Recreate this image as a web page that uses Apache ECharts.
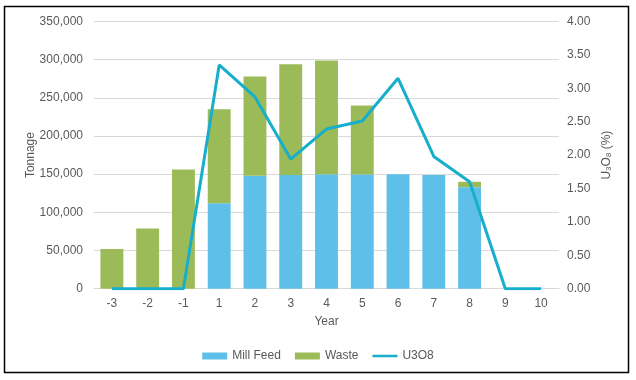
<!DOCTYPE html>
<html>
<head>
<meta charset="utf-8">
<script src="https://cdn.jsdelivr.net/npm/echarts@6/dist/echarts.min.js"></script>
<style>
html,body{margin:0;padding:0;background:#fff;}
#chart{width:636px;height:380px;}
</style>
</head>
<body>
<div id="chart"></div>
<script>
const years = ['-3','-2','-1','1','2','3','4','5','6','7','8','9','10'];
const millFeed = [0, 0, 0, 112000, 148000, 149000, 150000, 149500, 150000, 149000, 133000, 0, 0];
const waste = [52000, 79000, 156000, 123000, 130000, 145000, 149000, 90500, 0, 0, 7000, 0, 0];
const u3o8 = [0, 0, 0, 3.35, 2.87, 1.94, 2.39, 2.51, 3.15, 1.98, 1.60, 0, 0];

const txt = '#595959';
const font = 'Liberation Sans, Arial, sans-serif';
const chart = echarts.init(document.getElementById('chart'));
chart.setOption({
  animation: false,
  backgroundColor: '#fff',
  textStyle: {fontFamily: font},
  graphic: [{
    type: 'rect', shape: {x: 4.5, y: 6.5, width: 624, height: 366},
    style: {fill: 'none', stroke: '#000', lineWidth: 1.5}, silent: true, z: 100
  }],
  grid: {left: 94, right: 77, top: 21.5, bottom: 91.3},
  legend: {
    bottom: 13, left: 'center', itemGap: 14, itemWidth: 25, itemHeight: 7,
    textStyle: {color: txt, fontSize: 12, fontFamily: font},
    data: [{name: 'Mill Feed', icon: 'rect'}, {name: 'Waste', icon: 'rect'},
      {name: 'U3O8', icon: 'path://M0,0 L0.01,0 L0.01,0.01 Z M0,2.3 L25,2.3 L25,4.7 L0,4.7 Z M0,7 L0.01,7 L0.01,6.99 Z'}]
  },
  xAxis: {
    type: 'category', data: years,
    name: 'Year', nameLocation: 'middle', nameGap: 27,
    nameTextStyle: {color: txt, fontSize: 12, fontFamily: font},
    axisLine: {lineStyle: {color: '#d9d9d9'}},
    axisTick: {show: false},
    axisLabel: {color: txt, fontSize: 12, margin: 9, fontFamily: font}
  },
  yAxis: [{
    type: 'value', min: 0, max: 350000, interval: 50000,
    name: 'Tonnage', nameLocation: 'middle', nameGap: 57, nameRotate: 90, nameMoveOverlap: false,
    nameTextStyle: {color: txt, fontSize: 12, fontFamily: font},
    axisLabel: {color: txt, fontSize: 12, margin: 11, fontFamily: font,
      formatter: v => v.toLocaleString('en-US')},
    splitLine: {lineStyle: {color: '#d9d9d9'}},
    axisLine: {show: false}, axisTick: {show: false}
  }, {
    type: 'value', min: 0, max: 4, interval: 0.5, position: 'right',
    name: '{n|U}{s|3}{n|O}{s|8}{n| (%)}', nameLocation: 'middle', nameGap: 40, nameRotate: 90, nameMoveOverlap: false,
    nameTextStyle: {color: txt, fontSize: 12, fontFamily: font,
      rich: {n: {fontSize: 12, color: txt, fontFamily: font, lineHeight: 14, verticalAlign: 'bottom'},
             s: {fontSize: 8, color: txt, fontFamily: font, lineHeight: 10, verticalAlign: 'bottom'}}},
    axisLabel: {color: txt, fontSize: 12, margin: 8, fontFamily: font,
      formatter: v => v.toFixed(2)},
    splitLine: {show: false},
    axisLine: {show: false}, axisTick: {show: false}
  }],
  series: [{
    name: 'Mill Feed', type: 'bar', stack: 't', data: millFeed,
    barCategoryGap: '36%', itemStyle: {color: '#5EC0E8'}
  }, {
    name: 'Waste', type: 'bar', stack: 't', data: waste,
    itemStyle: {color: '#9BBB59'}
  }, {
    name: 'U3O8', type: 'line', yAxisIndex: 1, data: u3o8,
    symbol: 'none', lineStyle: {color: '#17AECB', width: 3}, itemStyle: {color: '#17AECB'}
  }]
});
</script>
</body>
</html>
